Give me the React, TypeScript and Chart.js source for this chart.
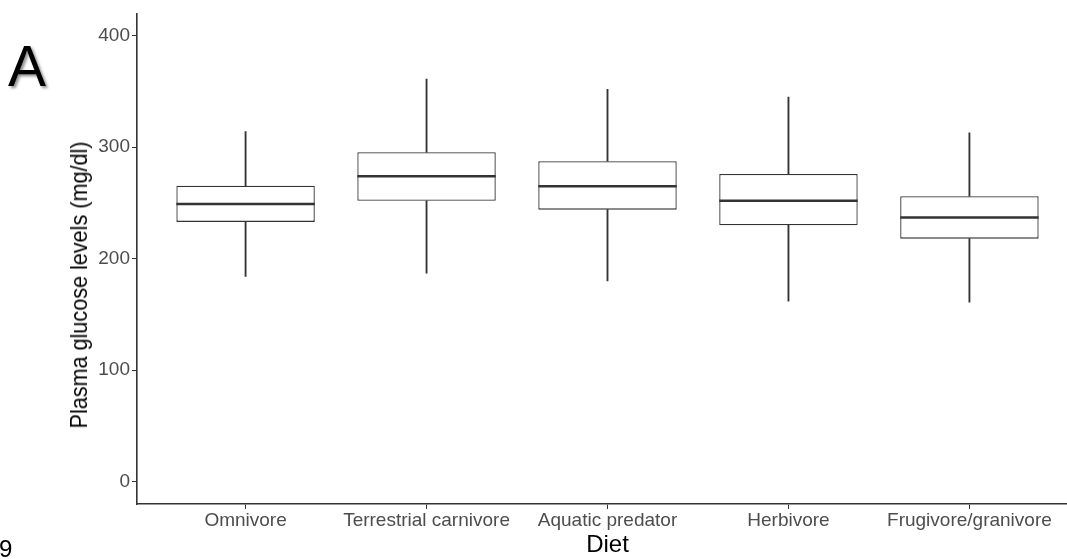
import React, { useEffect, useRef } from "react";
import { Chart, registerables } from "chart.js";

Chart.register(...registerables);

const categories = ["Omnivore", "Terrestrial carnivore", "Aquatic predator", "Herbivore", "Frugivore/granivore"];
const whiskerLow = [184, 187, 180, 162, 161];
const q1 = [233, 252, 244, 230, 218];
const median = [249, 274, 265, 252, 237];
const q3 = [265.5, 295.5, 287.5, 276, 256];
const whiskerHigh = [314, 361, 352, 345, 313];
const yTicks = [0, 100, 200, 300, 400];
const yTitle = "Plasma glucose levels (mg/dl)";
const xTitle = "Diet";

const FONT = "'Liberation Sans', Arial, Helvetica, sans-serif";
const AXIS = "#333333";

const medianPlugin = {
  id: "medianLines",
  afterDatasetsDraw(chart: any) {
    const meta = chart.getDatasetMeta(0);
    const yScale = chart.scales.y;
    const ctx = chart.ctx;
    ctx.save();
    ctx.strokeStyle = AXIS;
    ctx.lineWidth = 2.6;
    meta.data.forEach((el: any, i: number) => {
      const y = yScale.getPixelForValue(median[i]);
      const half = el.width / 2;
      ctx.beginPath();
      ctx.moveTo(el.x - half, y);
      ctx.lineTo(el.x + half, y);
      ctx.stroke();
    });
    ctx.restore();
  },
};

export default function App() {
  const ref = useRef<HTMLCanvasElement | null>(null);

  useEffect(() => {
    if (!ref.current) return;
    document.body.style.margin = "0";
    const pts = (lo: number[], hi: number[]) => categories.map((_, i) => ({ x: i + 1, y: [lo[i], hi[i]] }));
    const chart = new Chart(ref.current, {
      type: "bar",
      data: {
        datasets: [
          {
            label: "box",
            data: pts(q1, q3) as any,
            backgroundColor: "#ffffff",
            borderColor: AXIS,
            borderWidth: 1.3,
            borderSkipped: false,
            grouped: false,
            categoryPercentage: 1,
            barPercentage: 0.765,
          },
          {
            label: "lower",
            data: pts(whiskerLow, q1) as any,
            backgroundColor: AXIS,
            borderWidth: 0,
            barThickness: 1.2,
            grouped: false,
          },
          {
            label: "upper",
            data: pts(q3, whiskerHigh) as any,
            backgroundColor: AXIS,
            borderWidth: 0,
            barThickness: 1.2,
            grouped: false,
          },
        ],
      },
      options: {
        animation: false,
        responsive: false,
        devicePixelRatio: 1,
        layout: { padding: { top: 10, left: 0, right: 7, bottom: 0 } },
        plugins: { legend: { display: false }, tooltip: { enabled: false } },
        scales: {
          x: {
            type: "linear",
            min: 0.4,
            max: 5.6,
            offset: false,
            afterBuildTicks: (s: any) => {
              s.ticks = categories.map((_, i) => ({ value: i + 1 }));
            },
            afterFit: (s: any) => {
              s.height = 55;
            },
            ticks: {
              autoSkip: false,
              maxRotation: 0,
              minRotation: 0,
              padding: 0,
              color: "#4d4d4d",
              font: { family: FONT, size: 19 },
              callback: (v: any) => categories[Math.round(v) - 1] ?? "",
            },
            grid: { display: true, offset: false, drawOnChartArea: false, drawTicks: true, tickLength: 5, tickColor: AXIS, tickWidth: 1 },
            border: { display: true, color: AXIS, width: 1.6 },
            title: {
              display: true,
              text: xTitle,
              color: "#000000",
              font: { family: FONT, size: 24 },
              padding: { top: 0, bottom: -1 },
            },
          },
          y: {
            type: "linear",
            min: -20,
            max: 420,
            afterBuildTicks: (s: any) => {
              s.ticks = yTicks.map((v) => ({ value: v }));
            },
            afterFit: (s: any) => {
              s.width = 137;
            },
            ticks: {
              padding: 2,
              color: "#4d4d4d",
              font: { family: FONT, size: 19 },
            },
            grid: { display: true, drawOnChartArea: false, drawTicks: true, tickLength: 5, tickColor: AXIS, tickWidth: 1 },
            border: { display: true, color: AXIS, width: 1.6 },
            title: { display: false },
          },
        },
      },
      plugins: [medianPlugin],
    });
    return () => chart.destroy();
  }, []);

  return (
    <div style={{ position: "absolute", left: 0, top: 0, width: 1067, height: 559, overflow: "hidden", background: "#ffffff" }}>
      <canvas ref={ref} width={1085} height={559} style={{ position: "absolute", left: 0, top: 0, width: 1085, height: 559 }} />
      <div
        style={{
          position: "absolute",
          left: 79,
          top: 285,
          transform: "translate(-50%, -50%) rotate(-90deg) scaleX(0.9)",
          whiteSpace: "nowrap",
          fontFamily: FONT,
          fontSize: 24,
          lineHeight: "24px",
          color: "#000000",
        }}
      >
        {yTitle}
      </div>
      <div
        style={{
          position: "absolute",
          left: 8,
          top: 38,
          fontFamily: FONT,
          fontSize: 57,
          lineHeight: "57px",
          color: "#000000",
          textShadow: "2px 2px 3px rgba(0,0,0,0.45)",
        }}
      >
        A
      </div>
      <div
        style={{
          position: "absolute",
          left: -1,
          top: 537,
          fontFamily: FONT,
          fontSize: 24,
          lineHeight: "24px",
          color: "#000000",
        }}
      >
        9
      </div>
    </div>
  );
}
